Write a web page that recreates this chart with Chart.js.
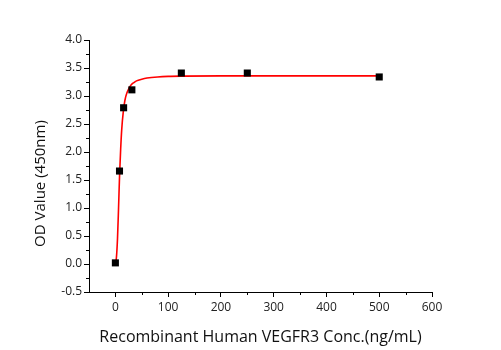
<!DOCTYPE html>
<html>
<head>
<meta charset="utf-8">
<script src="https://cdn.jsdelivr.net/npm/chart.js@4.4.1/dist/chart.umd.min.js"></script>
<style>
  html, body { margin: 0; padding: 0; background: #fff; }
  #wrap { width: 501px; height: 350px; }
</style>
</head>
<body>
<div id="wrap"><canvas id="c" width="501" height="350"></canvas></div>
<script>
// measured points (concentration ng/mL -> OD 450nm)
const concs = [0, 7.8, 15.6, 31.25, 125, 250, 500];
const odValues = [0.02, 1.66, 2.79, 3.11, 3.41, 3.41, 3.34];

// fitted curve
const fitX = [0, 2, 4, 6, 8, 10, 12, 15, 18, 22, 26, 30, 35, 40, 50, 60, 80, 100, 130, 200, 300, 400, 500];
const fitY = [0.0, 0.12, 0.45, 1.0, 1.6, 2.05, 2.4, 2.72, 2.92, 3.06, 3.14, 3.2, 3.24, 3.27, 3.3, 3.32, 3.34, 3.35, 3.355, 3.36, 3.36, 3.36, 3.36];

// tick labels
const xTicks = [0, 100, 200, 300, 400, 500, 600];
const yTicks = [-0.5, 0, 0.5, 1.0, 1.5, 2.0, 2.5, 3.0, 3.5, 4.0];

const FONT = "'Open Sans', sans-serif";

// kleine tussen-ticks (half tussen de hoofd-ticks)
const minorTicks = {
  id: 'minorTicks',
  afterDraw(chart) {
    const ctx = chart.ctx;
    ctx.save();
    ctx.strokeStyle = '#000';
    ctx.lineWidth = 1;
    const xs = chart.scales.x, ys = chart.scales.y;
    ctx.beginPath();
    for (let i = 0; i < xTicks.length - 1; i++) {
      const px = Math.round(xs.getPixelForValue((xTicks[i] + xTicks[i + 1]) / 2)) + 0.5;
      ctx.moveTo(px, xs.top);
      ctx.lineTo(px, xs.top + 3);
    }
    for (let i = 0; i < yTicks.length - 1; i++) {
      const py = Math.round(ys.getPixelForValue((yTicks[i] + yTicks[i + 1]) / 2)) + 0.5;
      ctx.moveTo(ys.right, py);
      ctx.lineTo(ys.right - 3, py);
    }
    ctx.stroke();
    ctx.restore();
  }
};

new Chart(document.getElementById('c'), {
  type: 'line',
  data: {
    datasets: [
      {
        label: 'data',
        data: concs.map((x, i) => ({ x, y: odValues[i] })),
        showLine: false,
        pointStyle: 'rect',
        pointRadius: 5,
        pointBackgroundColor: '#000',
        pointBorderColor: '#000',
        pointBorderWidth: 0,
        order: 0
      },
      {
        label: 'fit',
        data: fitX.map((x, i) => ({ x, y: fitY[i] })),
        borderColor: '#ff0000',
        borderWidth: 1.6,
        pointRadius: 0,
        cubicInterpolationMode: 'monotone',
        fill: false,
        order: 1
      }
    ]
  },
  options: {
    responsive: false,
    animation: false,
    events: [],
    layout: { padding: { left: 0, right: 69, top: 40, bottom: 0 } },
    plugins: { legend: { display: false }, tooltip: { enabled: false } },
    scales: {
      x: {
        type: 'linear',
        min: -50,
        max: 600,
        afterBuildTicks(scale) { scale.ticks = xTicks.map(v => ({ value: v })); },
        afterFit(scale) { scale.height = 58; },
        grid: { drawOnChartArea: false, drawTicks: true, tickLength: 5, tickColor: '#000' },
        border: { display: true, color: '#000', width: 1 },
        ticks: { color: '#222', font: { family: FONT, size: 12 }, padding: 3 },
        title: {
          display: true,
          text: 'Recombinant Human VEGFR3 Conc.(ng/mL)',
          color: '#111',
          font: { family: FONT, size: 16 },
          padding: { top: 0, bottom: 3 }
        }
      },
      y: {
        type: 'linear',
        min: -0.5,
        max: 4.0,
        afterBuildTicks(scale) { scale.ticks = yTicks.map(v => ({ value: v })); },
        afterFit(scale) { scale.width = 89; },
        grid: { drawOnChartArea: false, drawTicks: true, tickLength: 5, tickColor: '#000' },
        border: { display: true, color: '#000', width: 1 },
        ticks: {
          color: '#222',
          font: { family: FONT, size: 12 },
          padding: 2,
          callback: v => v.toFixed(1)
        },
        title: {
          display: true,
          // trailing spaces push the label a bit lower, as in the reference
          text: 'OD Value (450nm)         ',
          color: '#111',
          font: { family: FONT, size: 15 },
          padding: { top: 32, bottom: 0 }
        }
      }
    }
  },
  plugins: [minorTicks]
});
</script>
</body>
</html>
